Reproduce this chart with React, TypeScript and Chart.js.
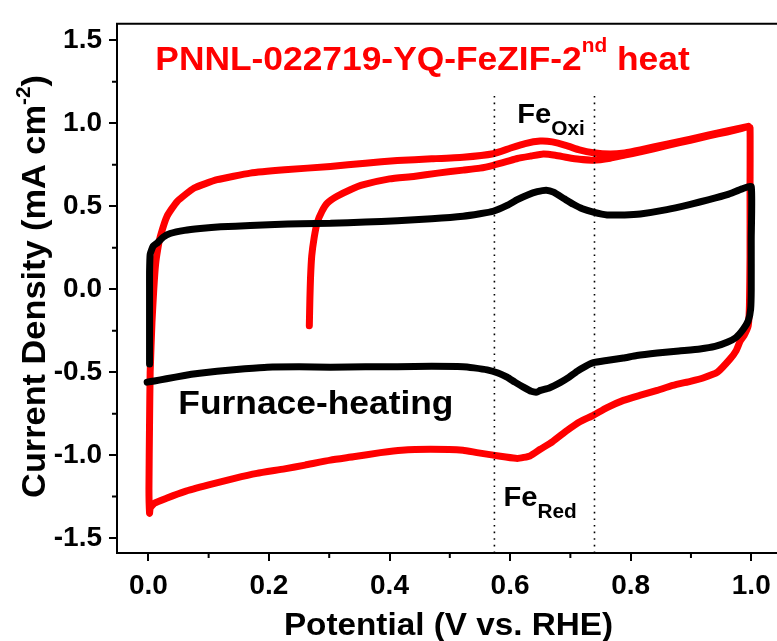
import React, { useEffect, useRef } from 'react';
import { Chart, registerables } from 'chart.js';

Chart.register(...registerables);

// ---------- data ----------
const redPotential = [
  0.267, 0.268, 0.269, 0.271, 0.275, 0.28, 0.288, 0.297, 0.313, 0.335, 0.357, 0.4, 0.44, 0.48, 0.522, 0.55, 0.572, 0.595,
  0.612, 0.635, 0.655, 0.675, 0.695, 0.715, 0.738, 0.766, 0.79, 0.816, 0.86, 0.899, 0.93, 0.96, 0.98, 0.995, 0.998,
  0.998, 0.998, 0.997, 0.995, 0.988, 0.982, 0.975, 0.965, 0.944, 0.92, 0.899, 0.87, 0.844, 0.815, 0.788, 0.76, 0.738,
  0.715, 0.695, 0.67, 0.65, 0.633, 0.612, 0.59, 0.572, 0.545, 0.522, 0.468, 0.42, 0.385, 0.34, 0.302, 0.26, 0.226, 0.18,
  0.143, 0.1, 0.06, 0.03, 0.01, 0.003, 0.002,
  0.001, 0.002, 0.003, 0.006, 0.009, 0.012, 0.016, 0.02, 0.031, 0.048, 0.076, 0.114, 0.169, 0.226, 0.302, 0.36, 0.413,
  0.47, 0.522, 0.572, 0.6, 0.625, 0.65, 0.67, 0.695, 0.715, 0.738, 0.766, 0.79, 0.816, 0.86, 0.899, 0.96, 0.995,
];
const redCurrent = [
  -0.22, -0.05, 0.07, 0.2, 0.31, 0.4, 0.47, 0.52, 0.56, 0.6, 0.63, 0.665, 0.68, 0.7, 0.718, 0.73, 0.747, 0.77,
  0.788, 0.803, 0.815, 0.808, 0.794, 0.783, 0.778, 0.79, 0.808, 0.828, 0.866, 0.898, 0.925, 0.948, 0.965, 0.98, 0.975,
  0.6, 0.2, -0.1, -0.22, -0.28, -0.31, -0.37, -0.42, -0.5, -0.535, -0.555, -0.58, -0.61, -0.64, -0.67, -0.715, -0.76,
  -0.8, -0.85, -0.92, -0.965, -1.005, -1.02, -1.01, -1.0, -0.985, -0.97, -0.965, -0.97, -0.985, -1.01, -1.03, -1.06, -1.083, -1.11,
  -1.14, -1.18, -1.22, -1.26, -1.29, -1.32, -1.35,
  -1.2, -0.8, -0.5, -0.2, 0.0, 0.15, 0.25, 0.32, 0.44, 0.53, 0.61, 0.66, 0.7, 0.72, 0.74, 0.76, 0.776,
  0.786, 0.796, 0.817, 0.85, 0.878, 0.893, 0.888, 0.864, 0.84, 0.823, 0.815, 0.822, 0.84, 0.875, 0.905, 0.955, 0.982,
];
const blackPotential = [
  0.002, 0.002, 0.002, 0.002, 0.003, 0.008, 0.015, 0.025, 0.036, 0.06, 0.086, 0.12, 0.169, 0.21, 0.252, 0.302, 0.36,
  0.413, 0.47, 0.522, 0.55, 0.572, 0.595, 0.612, 0.63, 0.645, 0.66, 0.672, 0.69, 0.705, 0.72, 0.738, 0.761, 0.79, 0.816,
  0.86, 0.899, 0.93, 0.96, 0.985, 1.0, 1.0, 1.0, 0.999, 0.995, 0.987, 0.975, 0.96, 0.94, 0.915, 0.88, 0.844, 0.81, 0.788,
  0.76, 0.738, 0.725, 0.711, 0.698, 0.683, 0.665, 0.65, 0.645, 0.635, 0.622, 0.608, 0.595, 0.58, 0.562, 0.54, 0.522,
  0.47, 0.413, 0.36, 0.302, 0.25, 0.197, 0.16, 0.114, 0.085, 0.06, 0.03, 0.01, -0.002,
];
const blackCurrent = [
  -0.45, -0.2, 0.0, 0.1, 0.21, 0.26, 0.28, 0.315, 0.336, 0.355, 0.366, 0.376, 0.384, 0.39, 0.395, 0.397, 0.405,
  0.413, 0.425, 0.44, 0.455, 0.47, 0.505, 0.54, 0.57, 0.588, 0.597, 0.585, 0.545, 0.512, 0.485, 0.465, 0.448, 0.448, 0.454,
  0.48, 0.512, 0.54, 0.57, 0.605, 0.618, 0.3, 0.0, -0.12, -0.19, -0.24, -0.29, -0.32, -0.345, -0.36, -0.372, -0.385, -0.4, -0.415,
  -0.43, -0.443, -0.465, -0.495, -0.53, -0.563, -0.595, -0.61, -0.62, -0.615, -0.59, -0.56, -0.53, -0.505, -0.486, -0.474, -0.467,
  -0.465, -0.467, -0.467, -0.47, -0.468, -0.47, -0.48, -0.495, -0.507, -0.52, -0.54, -0.553, -0.56,
];
const markerPotentials = [0.574, 0.74];
const markerSpan = [-1.59, 1.18];
const xMinorTicks = [0.1, 0.3, 0.5, 0.7, 0.9];
const yMinorTicks = [1.25, 0.75, 0.25, -0.25, -0.75, -1.25];

// ---------- text ----------
const titleMain = 'PNNL-022719-YQ-FeZIF-2';
const titleSup = 'nd';
const titleEnd = ' heat';
const sampleLabel = 'Furnace-heating';
const oxiLabel = ['Fe', 'Oxi'];
const redLabel = ['Fe', 'Red'];
const xTitle = 'Potential (V vs. RHE)';
const yTitle = ['Current Density (mA cm', '-2', ')'];

const FONT = '"Liberation Sans", Arial, Helvetica, sans-serif';
const f = (size: number) => `bold ${size}px ${FONT}`;
const STRETCH = 1.04;

const framePlugin = {
  id: 'frame',
  afterDraw(chart: any) {
    const { ctx, chartArea, scales } = chart;
    ctx.save();
    ctx.strokeStyle = '#000';
    ctx.lineWidth = 2;
    ctx.beginPath();
    ctx.moveTo(chartArea.left - 1, chartArea.top);
    ctx.lineTo(chartArea.right + 1, chartArea.top);
    ctx.moveTo(chartArea.right, chartArea.top);
    ctx.lineTo(chartArea.right, chartArea.bottom);
    for (const v of xMinorTicks) {
      const px = scales.x.getPixelForValue(v);
      ctx.moveTo(px, chartArea.bottom);
      ctx.lineTo(px, chartArea.bottom + 5);
    }
    for (const v of yMinorTicks) {
      const py = scales.y.getPixelForValue(v);
      ctx.moveTo(chartArea.left, py);
      ctx.lineTo(chartArea.left - 5, py);
    }
    ctx.stroke();
    ctx.restore();
  },
};

// draws a sequence of [text, size, dy] pieces starting at (x, y), horizontally stretched
function drawPieces(ctx: any, pieces: [string, number, number][], x: number, y: number, align: 'left' | 'center') {
  ctx.save();
  ctx.translate(x, y);
  ctx.scale(STRETCH, 1);
  let total = 0;
  for (const [t, s] of pieces) {
    ctx.font = f(s);
    total += ctx.measureText(t).width;
  }
  let cx = align === 'center' ? -total / 2 : 0;
  ctx.textAlign = 'left';
  ctx.textBaseline = 'alphabetic';
  for (const [t, s, dy] of pieces) {
    ctx.font = f(s);
    ctx.fillText(t, cx, dy);
    cx += ctx.measureText(t).width;
  }
  ctx.restore();
}

const textPlugin = {
  id: 'texts',
  afterDraw(chart: any) {
    const { ctx, scales } = chart;
    const X = (v: number) => scales.x.getPixelForValue(v);
    const Y = (v: number) => scales.y.getPixelForValue(v);
    ctx.save();

    ctx.fillStyle = '#ff0000';
    drawPieces(ctx, [[titleMain, 34, 0], [titleSup, 20, -18], [titleEnd, 34, 0]], X(0.0116), Y(1.322), 'left');

    ctx.fillStyle = '#000';
    drawPieces(ctx, [[sampleLabel, 34, 0]], X(0.0498), Y(-0.755), 'left');
    drawPieces(ctx, [[oxiLabel[0], 28, 0], [oxiLabel[1], 20, 12]], X(0.612), Y(1.0), 'left');
    drawPieces(ctx, [[redLabel[0], 28, 0], [redLabel[1], 20, 12]], X(0.589), Y(-1.307), 'left');

    drawPieces(ctx, [[xTitle, 32, 0]], 448.5, 635, 'center');

    ctx.save();
    ctx.translate(45, 286.5);
    ctx.rotate(-Math.PI / 2);
    drawPieces(ctx, [[yTitle[0], 33, 0], [yTitle[1], 20, -15], [yTitle[2], 33, 0]], 0, 0, 'center');
    ctx.restore();

    ctx.restore();
  },
};

export default function App() {
  const ref = useRef<HTMLCanvasElement>(null);
  useEffect(() => {
    if (!ref.current) return;
    const toPts = (xs: number[], ys: number[]) => xs.map((x, i) => ({ x, y: ys[i] }));
    const line = (color: string, width: number) => ({
      showLine: true,
      borderColor: color,
      backgroundColor: color,
      borderWidth: width,
      pointRadius: 0,
      fill: false,
      tension: 0.15,
      borderJoinStyle: 'round' as const,
      borderCapStyle: 'round' as const,
    });
    const tickFont = { family: FONT, size: 28, weight: 'bold' as const };
    const chart = new Chart(ref.current, {
      type: 'scatter',
      data: {
        datasets: [
          ...markerPotentials.map((p) => ({
            data: [
              { x: p, y: markerSpan[0] },
              { x: p, y: markerSpan[1] },
            ],
            showLine: true,
            borderColor: '#000',
            borderWidth: 1.6,
            borderDash: [1.6, 5],
            pointRadius: 0,
          })),
          { data: toPts(blackPotential, blackCurrent), ...line('#000000', 7) },
          { data: toPts(redPotential, redCurrent), ...line('#ff0000', 7) },
        ],
      },
      options: {
        responsive: false,
        animation: false,
        layout: { padding: { top: 10, right: 15, left: 0, bottom: 0 } },
        plugins: { legend: { display: false }, tooltip: { enabled: false }, title: { display: false } },
        scales: {
          x: {
            type: 'linear',
            min: -0.052,
            max: 1.056,
            afterFit: (s: any) => {
              s.height = 88;
            },
            border: { display: true, color: '#000', width: 2 },
            grid: { drawOnChartArea: false, drawTicks: true, tickLength: 8, color: '#000', lineWidth: 2 },
            ticks: {
              stepSize: 0.2,
              includeBounds: false,
              padding: 8,
              color: '#000',
              font: tickFont,
              maxRotation: 0,
              autoSkip: false,
              callback: (v: any) => Number(v).toFixed(1),
            },
          },
          y: {
            type: 'linear',
            min: -1.59,
            max: 1.6,
            afterFit: (s: any) => {
              s.width = 117;
            },
            border: { display: true, color: '#000', width: 2 },
            grid: { drawOnChartArea: false, drawTicks: true, tickLength: 8, color: '#000', lineWidth: 2 },
            ticks: {
              stepSize: 0.5,
              includeBounds: false,
              padding: 7,
              color: '#000',
              font: tickFont,
              autoSkip: false,
              callback: (v: any) => Number(v).toFixed(1),
            },
          },
        },
      },
      plugins: [framePlugin, textPlugin],
    } as any);
    return () => chart.destroy();
  }, []);
  return (
    <div style={{ position: 'absolute', left: 0, top: 0, width: 777, height: 641, overflow: 'hidden', background: '#fff' }}>
      <canvas ref={ref} width={800} height={641} />
    </div>
  );
}
